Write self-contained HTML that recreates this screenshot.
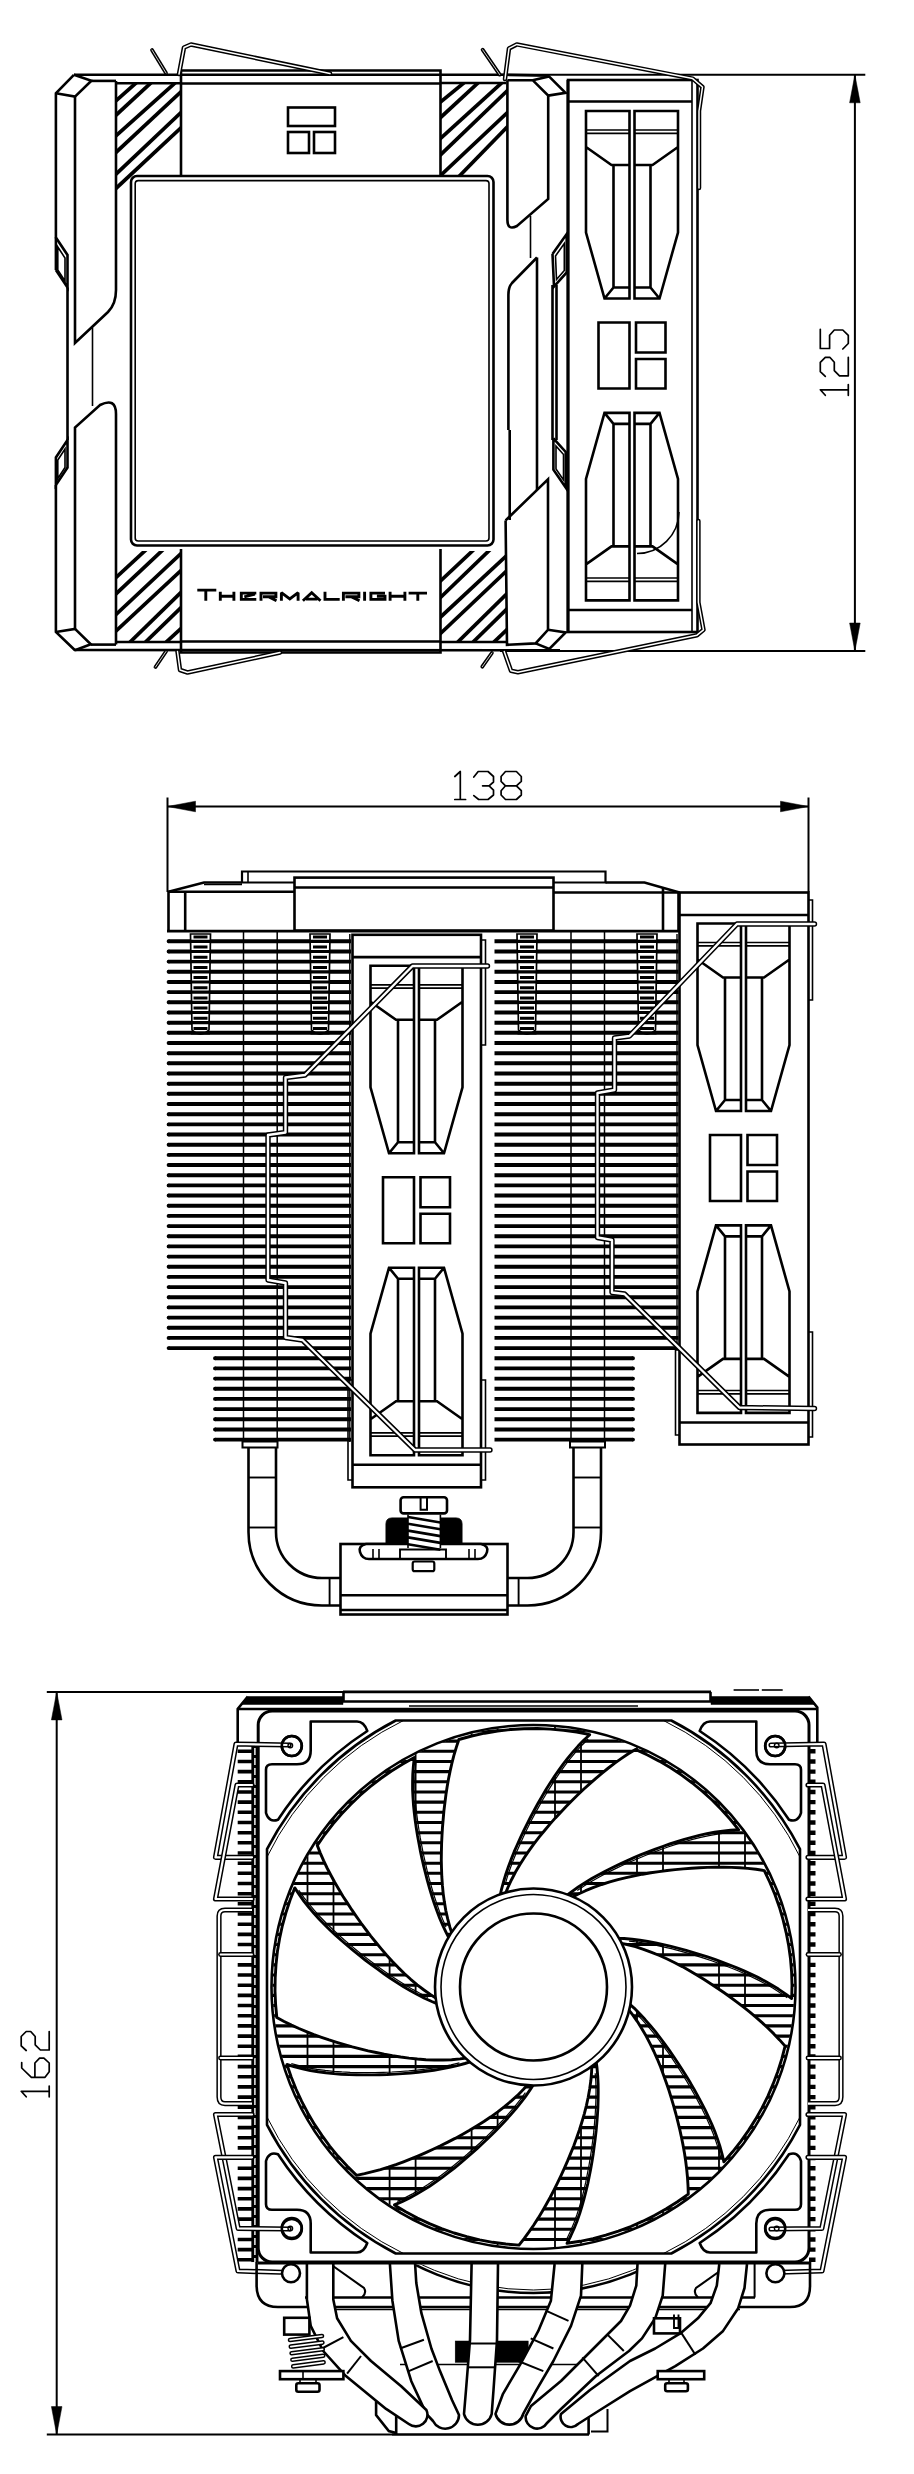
<!DOCTYPE html><html><head><meta charset="utf-8"><title>Cooler dimensions</title><style>html,body{margin:0;padding:0;background:#fff}svg{display:block}</style></head><body><svg width="914" height="2474" viewBox="0 0 914 2474" fill="none" stroke="#000" stroke-linecap="butt" stroke-linejoin="miter"><rect width="914" height="2474" fill="#fff" stroke="none"/><defs><g id="fcol"><path d="M18 31H61.5V218.5H36.5L18 152.5ZM18 67L43.5 85H61.5M45.5 85V207.5H61.5M45.5 207.5L36.5 218.5M110 31H66.5V218.5H91.5L110 152.5ZM110 67L84.5 85H66.5M82.5 85V207.5H66.5M82.5 207.5L91.5 218.5" stroke-width="2.6"/><path d="M18 50H61.5M18 53.4H61.5M110 50H66.5M110 53.4H66.5" stroke-width="1.7"/></g><g id="fanedge"><use href="#fcol"/><use href="#fcol" transform="translate(0 551.4) scale(1 -1)"/><path d="M30.5 242.5H61.5V308.5H30.5ZM68 242.5H97.5V272.5H68ZM68 279H97.5V308.5H68Z" stroke-width="2.6"/></g><clipPath id="hc1"><rect x="116" y="82.5" width="65" height="109.5"/></clipPath><clipPath id="hc2"><rect x="441" y="82.5" width="66.5" height="93"/></clipPath><clipPath id="hc3"><rect x="116" y="551" width="65" height="91.5"/></clipPath><clipPath id="hc4"><rect x="441" y="551" width="66" height="91.5"/></clipPath><clipPath id="cfan"><circle cx="533.5" cy="1987" r="261"/></clipPath><clipPath id="crear"><rect x="258" y="2264.5" width="551" height="33"/></clipPath></defs><g id="v1">
<path d="M500 74.8L865.3 74.8" stroke-width="2"/>
<path d="M500 651L865.3 651" stroke-width="2"/>
<path d="M854.9 74.8L854.9 651" stroke-width="2"/>
<path d="M854.9 74.8L860.2 102.8L849.6 102.8Z" stroke-width="0.5" fill="#000"/>
<path d="M854.9 651L849.6 623L860.2 623Z" stroke-width="0.5" fill="#000"/>
<g transform="translate(848.8 395.3) rotate(-90)" stroke-width="1.7" stroke-linecap="round" stroke-linejoin="round"><path transform="translate(0 -29)" d="M0 5.5L5.5 .5V28.5M0 28.5H10.8"/><path transform="translate(19 -29)" d="M0 5.5L4.6 .5H14L19 5.5V10L14 14.5H5.7L.5 19.7V28.5H19"/><path transform="translate(46.3 -29)" d="M19.7 .5H.5V9.8H13.7L19 14.5V23L13.7 28.5H5.5L0 23"/></g>
<g clip-path="url(#hc1)">
<path d="M111.9 104.5L140.5 79" stroke-width="3.7"/>
<path d="M112 118.8L154.7 79.4" stroke-width="3.7"/>
<path d="M111.9 139.5L178.9 79.5" stroke-width="3.7"/>
<path d="M112 156.1L185.4 87.6" stroke-width="3.7"/>
<path d="M112 177.9L185.4 108.4" stroke-width="3.7"/>
<path d="M112 192.1L185.4 123.7" stroke-width="3.7"/>
</g>
<g clip-path="url(#hc2)">
<path d="M437.8 104.3L468.4 79.2" stroke-width="3.7"/>
<path d="M438 119.9L481.8 79.4" stroke-width="3.7"/>
<path d="M438 140.6L505.4 79.5" stroke-width="3.7"/>
<path d="M438.1 157.2L511.8 86.4" stroke-width="3.7"/>
<path d="M438 177.9L511.9 108.4" stroke-width="3.7"/>
<path d="M457.4 178.1L511.7 122.4" stroke-width="3.7"/>
</g>
<g clip-path="url(#hc3)">
<path d="M112 581.1L148.2 547.8" stroke-width="3.7"/>
<path d="M112 597.6L165.7 547.2" stroke-width="3.7"/>
<path d="M112 618.3L185.4 549.4" stroke-width="3.7"/>
<path d="M112 634.8L185.4 566.4" stroke-width="3.7"/>
<path d="M126.3 645.8L185.3 588.2" stroke-width="3.7"/>
<path d="M141.7 645.8L185.3 603.5" stroke-width="3.7"/>
<path d="M162.3 645.7L185.4 624.4" stroke-width="3.7"/>
</g>
<g clip-path="url(#hc4)">
<path d="M438 583.3L475.8 547.8" stroke-width="3.7"/>
<path d="M438.1 599.8L492.1 547.7" stroke-width="3.7"/>
<path d="M438 619.4L511.4 551.1" stroke-width="3.7"/>
<path d="M438 635.9L511.4 566.4" stroke-width="3.7"/>
<path d="M454 645.8L511.3 589.3" stroke-width="3.7"/>
<path d="M469.3 645.8L511.3 604.6" stroke-width="3.7"/>
<path d="M490.1 645.7L511.3 625.5" stroke-width="3.7"/>
</g>
<path d="M74 74.8L506 74.8" stroke-width="2.6"/>
<path d="M74 650L560 650.3" stroke-width="2.6"/>
<path d="M91.4 80.9L116 80.9" stroke-width="2.6"/>
<path d="M116 83.2L181 83.2" stroke-width="2.6"/>
<path d="M440.5 83L506 83" stroke-width="2.6"/>
<path d="M116 642L181 642" stroke-width="2.6"/>
<path d="M440.5 642L507 642" stroke-width="2.6"/>
<path d="M90.8 644.6L116 644.6" stroke-width="2.6"/>
<path d="M181 176L181 70.5L440.5 70.5L440.5 176" stroke-width="2.6"/>
<path d="M181 83.5L440.5 83.5" stroke-width="2.6"/>
<path d="M181 549L181 652.5L440.5 652.5L440.5 549" stroke-width="2.6"/>
<path d="M181 641.5L440.5 641.5" stroke-width="2.6"/>
<rect x="288" y="107.5" width="47" height="18.5" stroke-width="2.6"/>
<rect x="288" y="132" width="21" height="21" stroke-width="2.6"/>
<rect x="314" y="132" width="21" height="21" stroke-width="2.6"/>
<rect x="131" y="176" width="362.5" height="369.5" stroke-width="2.6" fill="white" rx="6"/>
<rect x="135.2" y="180.6" width="353.8" height="360.4" stroke-width="1.6" rx="3"/>
<path d="M197.3 590.1H216.3M205.8 590.1V600.8M220.3 591.7V600.8M233.9 591.7V600.8M220.3 596.3H233.9M239.9 593.1H256.3M241.3 591.7V600.8M241.3 599.4H256.3M254.9 594.1L244.3 596.8M261 600.8V593.1H275.9V596.7H263M268.5 596.7L276.5 600.8M281.4 600.8V592.7L289.8 598.9L298.1 592.7V600.8M302.9 600.8L311.7 592.8L320.5 600.8M306 599.1H317.4M325 591.7V599.4H339.7M343.4 600.8V593.1H358.9V596.7H345.4M351.1 596.7L359.5 600.8M364.6 591.7V600.8M385 593.1H370.9V599.4H385V596.3H376.9M390.1 591.7V600.8M404.9 591.7V600.8M390.1 596.3H404.9M408.6 593.1H427M417.8 593.1V600.8" stroke-width="2.9" stroke-linejoin="miter" stroke-miterlimit="2"/>
<path d="M73.9 74.8L55.9 93.3L55.9 237.5L67.5 255L67.5 287.5L55.9 270" stroke-width="2.6"/>
<path d="M55.9 93.3L75 96.6L91.4 80.7L73.9 74.8" stroke-width="2.6"/>
<path d="M67.5 287.5L67.5 440" stroke-width="2.6"/>
<path d="M67.5 467.5L67.5 440L55.9 457.5L55.9 485L67.5 467.5L67.5 440" stroke-width="2.6"/>
<path d="M55.9 485L55.9 632L75 650.2" stroke-width="2.6"/>
<path d="M75 96.6V343L108 312Q116 304 116 290V80.9" stroke-width="2.6"/>
<path d="M92.5 327.5L92.5 406" stroke-width="1.6"/>
<path d="M75 628.9V427.5L100 405Q116 397 116 414V644.6" stroke-width="2.6"/>
<path d="M55.9 632L75 628.9L90.8 644.3L75 650.2" stroke-width="2.6"/>
<path d="M55.9 270L55.9 237.5" stroke-width="2.6"/>
<path d="M507.4 80.2V220Q507.5 231 517 226L548.2 199V95.6L532.7 80.2H507.4" stroke-width="2.6"/>
<path d="M532.7 80.2L549 76.4L565.5 92.8L548 95.6" stroke-width="2.6"/>
<path d="M506 74.8L549 75.6" stroke-width="2.6"/>
<path d="M530.5 216L530.5 258" stroke-width="1.6"/>
<path d="M537 257.5L512 283Q508.4 287 508.4 295V430" stroke-width="2.6"/>
<path d="M537 257.5L537 490" stroke-width="2.6"/>
<path d="M552.5 254L566.7 234L566.7 272.4L554 286.6L552.5 254" stroke-width="2.6"/>
<path d="M552.5 285L552.5 440" stroke-width="2.6"/>
<path d="M556.5 285L556.5 440" stroke-width="2.6"/>
<path d="M553.4 438.3L565.7 452L565.7 487.5L553.4 469.7L553.4 438.3" stroke-width="2.6"/>
<path d="M505.6 520.4L548 479.3L548 629.8L535.6 643.4L507 644.8L505.6 520.4" stroke-width="2.6" fill="white"/>
<path d="M548 629.8L565.7 632.5L549.3 649L535.6 643.4" stroke-width="2.6"/>
<path d="M509.7 430L509.7 520" stroke-width="2.6"/>
<path d="M57.8 247L65 258L65 281L57.8 270Z" stroke-width="1.6"/>
<path d="M65 449L57.8 460L57.8 478.5L65 467.5Z" stroke-width="1.6"/>
<path d="M555.5 256L564.3 243.5L564.3 270.5L556.5 279.5Z" stroke-width="1.6"/>
<path d="M556 446L563.5 454.5L563.5 480L556 469Z" stroke-width="1.6"/>
<rect x="568" y="80" width="129.5" height="552" stroke-width="2.6" fill="white"/>
<path d="M568 101.5L692 101.5" stroke-width="2.6"/>
<path d="M568 610L692 610" stroke-width="2.6"/>
<path d="M692 80L692 632" stroke-width="1.6"/>
<use href="#fanedge" x="568" y="80"/>
<path d="M568 80L568 632" stroke-width="3"/>
<path d="M679 512A42 42 0 0 1 637 553.5" stroke-width="1.6"/>
<path d="M179 74L184 47.5L191 44.5L330 73.5" stroke-width="4.5" stroke-linejoin="round" stroke-linecap="round"/>
<path d="M179 74L184 47.5L191 44.5L330 73.5" stroke="#fff" stroke-width="1.5" stroke-linejoin="round" stroke-linecap="round"/>
<path d="M152 50L166 73" stroke-width="3.8" stroke-linejoin="round" stroke-linecap="round"/>
<path d="M152 50L166 73" stroke="#fff" stroke-width="0.8" stroke-linejoin="round" stroke-linecap="round"/>
<path d="M505 79L509 48.4L516.8 44.4L692.7 78.6L702.5 87L699 111L699 188" stroke-width="4.5" stroke-linejoin="round" stroke-linecap="round"/>
<path d="M505 79L509 48.4L516.8 44.4L692.7 78.6L702.5 87L699 111L699 188" stroke="#fff" stroke-width="1.5" stroke-linejoin="round" stroke-linecap="round"/>
<path d="M482.6 49.7L499.7 74.6" stroke-width="3.8" stroke-linejoin="round" stroke-linecap="round"/>
<path d="M482.6 49.7L499.7 74.6" stroke="#fff" stroke-width="0.8" stroke-linejoin="round" stroke-linecap="round"/>
<path d="M177.5 651.5L180 670L187.5 672.5L280 652.5" stroke-width="4.5" stroke-linejoin="round" stroke-linecap="round"/>
<path d="M177.5 651.5L180 670L187.5 672.5L280 652.5" stroke="#fff" stroke-width="1.5" stroke-linejoin="round" stroke-linecap="round"/>
<path d="M166 651.5L155.5 667" stroke-width="3.8" stroke-linejoin="round" stroke-linecap="round"/>
<path d="M166 651.5L155.5 667" stroke="#fff" stroke-width="0.8" stroke-linejoin="round" stroke-linecap="round"/>
<path d="M504.2 651.6L511 670.8L517.9 672.2L697 635.2L703.5 629.8L698.4 602.4L698.4 521" stroke-width="4.5" stroke-linejoin="round" stroke-linecap="round"/>
<path d="M504.2 651.6L511 670.8L517.9 672.2L697 635.2L703.5 629.8L698.4 602.4L698.4 521" stroke="#fff" stroke-width="1.5" stroke-linejoin="round" stroke-linecap="round"/>
<path d="M491.9 653L482.3 666.7" stroke-width="3.8" stroke-linejoin="round" stroke-linecap="round"/>
<path d="M491.9 653L482.3 666.7" stroke="#fff" stroke-width="0.8" stroke-linejoin="round" stroke-linecap="round"/>
</g>
<g id="v2">
<path d="M167.5 806.5L808.5 806.5" stroke-width="2"/>
<path d="M167.5 797.5L167.5 892" stroke-width="2"/>
<path d="M808.5 797.5L808.5 892" stroke-width="2"/>
<path d="M167.5 806.5L195.5 801.2L195.5 811.8Z" stroke-width="0.5" fill="#000"/>
<path d="M808.5 806.5L780.5 811.8L780.5 801.2Z" stroke-width="0.5" fill="#000"/>
<g transform="translate(454.8 800) rotate(0)" stroke-width="1.7" stroke-linecap="round" stroke-linejoin="round"><path transform="translate(0 -29)" d="M0 5.5L5.5 .5V28.5M0 28.5H10.8"/><path transform="translate(19 -29)" d="M0 6L4.4 .5H14.2L19.7 5.5V11L15.3 14.8H8.8M15.3 14.8L19.7 19.1V24L14.2 28.5H4.9L0 24.6"/><path transform="translate(46.3 -29)" d="M4.4 .5H15.3L20.2 5.5V10.4L15.3 14.8H4.4L0 10.4V5.5ZM4.4 14.8L0 19.7V24L4.4 28.5H15.3L20.2 24V19.7L15.3 14.8"/></g>
<path d="M168.5 941.3H351M494.5 941.3H678.5M168.5 951.5H351M494.5 951.5H678.5M168.5 961.6H351M494.5 961.6H678.5M168.5 971.8H351M494.5 971.8H678.5M168.5 982H351M494.5 982H678.5M168.5 992.1H351M494.5 992.1H678.5M168.5 1002.3H351M494.5 1002.3H678.5M168.5 1012.5H351M494.5 1012.5H678.5M168.5 1022.7H351M494.5 1022.7H678.5M168.5 1032.8H351M494.5 1032.8H678.5M168.5 1043H351M494.5 1043H678.5M168.5 1053.2H351M494.5 1053.2H678.5M168.5 1063.3H351M494.5 1063.3H678.5M168.5 1073.5H351M494.5 1073.5H678.5M168.5 1083.7H351M494.5 1083.7H678.5M168.5 1093.8H351M494.5 1093.8H678.5M168.5 1104H351M494.5 1104H678.5M168.5 1114.2H351M494.5 1114.2H678.5M168.5 1124.4H351M494.5 1124.4H678.5M168.5 1134.5H351M494.5 1134.5H678.5M168.5 1144.7H351M494.5 1144.7H678.5M168.5 1154.9H351M494.5 1154.9H678.5M168.5 1165H351M494.5 1165H678.5M168.5 1175.2H351M494.5 1175.2H678.5M168.5 1185.4H351M494.5 1185.4H678.5M168.5 1195.5H351M494.5 1195.5H678.5M168.5 1205.7H351M494.5 1205.7H678.5M168.5 1215.9H351M494.5 1215.9H678.5M168.5 1226.1H351M494.5 1226.1H678.5M168.5 1236.2H351M494.5 1236.2H678.5M168.5 1246.4H351M494.5 1246.4H678.5M168.5 1256.6H351M494.5 1256.6H678.5M168.5 1266.7H351M494.5 1266.7H678.5M168.5 1276.9H351M494.5 1276.9H678.5M168.5 1287.1H351M494.5 1287.1H678.5M168.5 1297.2H351M494.5 1297.2H678.5M168.5 1307.4H351M494.5 1307.4H678.5M168.5 1317.6H351M494.5 1317.6H678.5M168.5 1327.8H351M494.5 1327.8H678.5M168.5 1337.9H351M494.5 1337.9H678.5M168.5 1348.1H351M494.5 1348.1H678.5M215 1358.3H351M494.5 1358.3H633M215 1368.4H351M494.5 1368.4H633M215 1378.6H351M494.5 1378.6H633M215 1388.8H351M494.5 1388.8H633M215 1398.9H351M494.5 1398.9H633M215 1409.1H351M494.5 1409.1H633M215 1419.3H351M494.5 1419.3H633M215 1429.5H351M494.5 1429.5H633M215 1439.6H351M494.5 1439.6H633" stroke-width="3.9"/>
<path d="M168.6 941.3h.01M168.6 951.5h.01M168.6 961.6h.01M168.6 971.8h.01M168.6 982h.01M168.6 992.1h.01M168.6 1002.3h.01M168.6 1012.5h.01M168.6 1022.7h.01M168.6 1032.8h.01M168.6 1043h.01M168.6 1053.2h.01M168.6 1063.3h.01M168.6 1073.5h.01M168.6 1083.7h.01M168.6 1093.8h.01M168.6 1104h.01M168.6 1114.2h.01M168.6 1124.4h.01M168.6 1134.5h.01M168.6 1144.7h.01M168.6 1154.9h.01M168.6 1165h.01M168.6 1175.2h.01M168.6 1185.4h.01M168.6 1195.5h.01M168.6 1205.7h.01M168.6 1215.9h.01M168.6 1226.1h.01M168.6 1236.2h.01M168.6 1246.4h.01M168.6 1256.6h.01M168.6 1266.7h.01M168.6 1276.9h.01M168.6 1287.1h.01M168.6 1297.2h.01M168.6 1307.4h.01M168.6 1317.6h.01M168.6 1327.8h.01M168.6 1337.9h.01M168.6 1348.1h.01M215 1358.3h.01M633 1358.3h.01M215 1368.4h.01M633 1368.4h.01M215 1378.6h.01M633 1378.6h.01M215 1388.8h.01M633 1388.8h.01M215 1398.9h.01M633 1398.9h.01M215 1409.1h.01M633 1409.1h.01M215 1419.3h.01M633 1419.3h.01M215 1429.5h.01M633 1429.5h.01M215 1439.6h.01M633 1439.6h.01" stroke-width="3.9" stroke-linecap="round"/>
<path d="M190.5 934L192 1030Q200.5 1038 209 1030L210.5 934Z" stroke-width="1.7" fill="white"/>
<path d="M191 941.3H210M191 951.5H210M191 961.6H210M191 971.8H210M191 982H210M191 992.1H210M191 1002.3H210M191 1012.5H210M191 1022.7H210M191 1032.8H210" stroke-width="3.2"/>
<path d="M193.5 936.9H207.5M193.5 947.1H207.5M193.5 957.2H207.5M193.5 967.4H207.5M193.5 977.6H207.5M193.5 987.8H207.5M193.5 997.9H207.5M193.5 1008.1H207.5M193.5 1018.3H207.5M193.5 1028.4H207.5" stroke-width="3"/>
<path d="M310 934L311.5 1030Q320 1038 328.5 1030L330 934Z" stroke-width="1.7" fill="white"/>
<path d="M310.5 941.3H329.5M310.5 951.5H329.5M310.5 961.6H329.5M310.5 971.8H329.5M310.5 982H329.5M310.5 992.1H329.5M310.5 1002.3H329.5M310.5 1012.5H329.5M310.5 1022.7H329.5M310.5 1032.8H329.5" stroke-width="3.2"/>
<path d="M313 936.9H327M313 947.1H327M313 957.2H327M313 967.4H327M313 977.6H327M313 987.8H327M313 997.9H327M313 1008.1H327M313 1018.3H327M313 1028.4H327" stroke-width="3"/>
<path d="M517 934L518.5 1030Q527 1038 535.5 1030L537 934Z" stroke-width="1.7" fill="white"/>
<path d="M517.5 941.3H536.5M517.5 951.5H536.5M517.5 961.6H536.5M517.5 971.8H536.5M517.5 982H536.5M517.5 992.1H536.5M517.5 1002.3H536.5M517.5 1012.5H536.5M517.5 1022.7H536.5M517.5 1032.8H536.5" stroke-width="3.2"/>
<path d="M520 936.9H534M520 947.1H534M520 957.2H534M520 967.4H534M520 977.6H534M520 987.8H534M520 997.9H534M520 1008.1H534M520 1018.3H534M520 1028.4H534" stroke-width="3"/>
<path d="M637 934L638.5 1030Q647 1038 655.5 1030L657 934Z" stroke-width="1.7" fill="white"/>
<path d="M637.5 941.3H656.5M637.5 951.5H656.5M637.5 961.6H656.5M637.5 971.8H656.5M637.5 982H656.5M637.5 992.1H656.5M637.5 1002.3H656.5M637.5 1012.5H656.5M637.5 1022.7H656.5M637.5 1032.8H656.5" stroke-width="3.2"/>
<path d="M640 936.9H654M640 947.1H654M640 957.2H654M640 967.4H654M640 977.6H654M640 987.8H654M640 997.9H654M640 1008.1H654M640 1018.3H654M640 1028.4H654" stroke-width="3"/>
<path d="M243.5 932L243.5 1445" stroke-width="1.5"/>
<path d="M277.2 932L277.2 1445" stroke-width="1.5"/>
<path d="M571 932L571 1445" stroke-width="1.5"/>
<path d="M604.5 932L604.5 1445" stroke-width="1.5"/>
<path d="M349.8 934L349.8 1442" stroke-width="1.4"/>
<path d="M677 934L677 1350" stroke-width="1.4"/>
<path d="M167 931.1L680 931.1" stroke-width="2.9"/>
<path d="M294 882.5L242 882.5L242 871.5L605.5 871.5L605.5 882.5L554 882.5" stroke-width="2.2"/>
<path d="M248 871.5L248 882.5" stroke-width="1.6"/>
<path d="M242 882.5L204 882.5L168.5 891.8L168.5 931.5" stroke-width="2.6"/>
<path d="M168.5 891.8L294.5 891.8" stroke-width="2.6"/>
<path d="M185.2 891.8L185.2 931.5" stroke-width="2.6"/>
<path d="M204 884.5L242 884.5" stroke-width="1.6"/>
<rect x="294.5" y="877.6" width="259" height="52.9" stroke-width="2.6" fill="white"/>
<path d="M294.5 887.5L553.5 887.5" stroke-width="2.6"/>
<path d="M605.5 882.5L644.5 882.5L679.5 892.5" stroke-width="2.6"/>
<path d="M553.5 892.5L679.5 892.5" stroke-width="2.6"/>
<path d="M663 888L663 931.5" stroke-width="2.6"/>
<path d="M678.5 892.5L678.5 931.5" stroke-width="2.6"/>
<rect x="352.5" y="934.8" width="128.5" height="552.5" stroke-width="2.6" fill="white"/>
<path d="M352.5 957.1L481 957.1" stroke-width="2.6"/>
<path d="M352.5 1464.8L481 1464.8" stroke-width="2.6"/>
<use href="#fanedge" x="352.5" y="934.8"/>
<path d="M481 940L485.5 940L485.5 1045L481 1045" stroke-width="1.6"/>
<path d="M352.5 1380L348 1380L348 1480L352.5 1480" stroke-width="1.6"/>
<path d="M481 1380L485.5 1380L485.5 1480L481 1480" stroke-width="1.6"/>
<rect x="679.5" y="892.5" width="129" height="552" stroke-width="2.6" fill="white"/>
<path d="M679.5 915L808.5 915" stroke-width="2.6"/>
<path d="M679.5 1422.5L808.5 1422.5" stroke-width="2.6"/>
<use href="#fanedge" x="679.5" y="892.5"/>
<path d="M808.5 900L812.5 900L812.5 1000L808.5 1000" stroke-width="1.6"/>
<path d="M808.5 1332L812.5 1332L812.5 1437L808.5 1437" stroke-width="1.6"/>
<path d="M679.5 1350L675.5 1350L675.5 1435L679.5 1435" stroke-width="1.6"/>
<path d="M487.5 966L412.5 966L305 1075L285.5 1077.5L285.5 1132.5L268 1135L268 1280L285.5 1283L285.5 1337.5L302.5 1340L415 1450L490 1450" stroke-width="5.4" stroke-linejoin="round" stroke-linecap="round"/>
<path d="M487.5 966L412.5 966L305 1075L285.5 1077.5L285.5 1132.5L268 1135L268 1280L285.5 1283L285.5 1337.5L302.5 1340L415 1450L490 1450" stroke="#fff" stroke-width="2.4" stroke-linejoin="round" stroke-linecap="round"/>
<path d="M814.5 924L737 924L629.5 1036L614.5 1038L614.5 1090L597.5 1093L597.5 1237.5L612 1240L612 1292.5L624.5 1294L739.5 1407.5L814.5 1408.5" stroke-width="5.4" stroke-linejoin="round" stroke-linecap="round"/>
<path d="M814.5 924L737 924L629.5 1036L614.5 1038L614.5 1090L597.5 1093L597.5 1237.5L612 1240L612 1292.5L624.5 1294L739.5 1407.5L814.5 1408.5" stroke="#fff" stroke-width="2.4" stroke-linejoin="round" stroke-linecap="round"/>
<rect x="242.5" y="1441.5" width="35" height="6" stroke-width="2" fill="white"/>
<rect x="570" y="1441.5" width="35" height="6" stroke-width="2" fill="white"/>
<path d="M248.5 1447.5V1532A73.5 73.5 0 0 0 322 1605.5H340.5M276 1447.5V1532A46 46 0 0 0 322 1578H340.5" stroke-width="2.6"/>
<path d="M601 1447.5V1532A73.5 73.5 0 0 1 527.5 1605.5H507.5M573.5 1447.5V1532A46 46 0 0 1 527.5 1578H507.5" stroke-width="2.6"/>
<path d="M248.5 1477.5L276 1477.5" stroke-width="1.9"/>
<path d="M248.5 1527.5L276 1527.5" stroke-width="1.9"/>
<path d="M573.5 1477.5L601 1477.5" stroke-width="1.9"/>
<path d="M573.5 1527.5L601 1527.5" stroke-width="1.9"/>
<path d="M329.6 1578L329.6 1605.5" stroke-width="1.9"/>
<path d="M518.6 1578L518.6 1605.5" stroke-width="1.9"/>
<rect x="340.5" y="1544" width="167" height="70.5" stroke-width="2.6" fill="white"/>
<path d="M340.5 1595.3L507.5 1595.3" stroke-width="2.6"/>
<path d="M340.5 1610L507.5 1610" stroke-width="2.6"/>
<path d="M366 1544H481Q489 1546 487 1552Q485 1559 478 1559H369Q362 1559 360 1552Q358 1546 366 1544Z" stroke-width="2.6" fill="white"/>
<path d="M373 1549L373 1559" stroke-width="1.6"/>
<path d="M379 1549L379 1559" stroke-width="1.6"/>
<path d="M469 1549L469 1559" stroke-width="1.6"/>
<path d="M475 1549L475 1559" stroke-width="1.6"/>
<path d="M400 1559L400 1549.5L446 1549.5L446 1559" stroke-width="1.9"/>
<rect x="412.7" y="1561.5" width="21.6" height="9.7" stroke-width="2.2" rx="2"/>
<path d="M386 1544V1524Q386 1518 392 1518H456Q462 1518 462 1524V1544Z" stroke-width="1" fill="#000"/>
<rect x="408" y="1514.6" width="32.4" height="33.4" stroke-width="0.1" fill="white" stroke="none"/>
<path d="M408 1517L440.4 1522.5M408 1523.8L440.4 1529.3M408 1530.6L440.4 1536.1M408 1537.4L440.4 1542.9M408 1544.2L440.4 1549.7" stroke-width="2.6"/>
<path d="M408 1514.6L408 1548" stroke-width="1.6"/>
<path d="M440.4 1514.6L440.4 1548" stroke-width="1.6"/>
<rect x="400.6" y="1497.3" width="46.4" height="16.1" stroke-width="2.6" fill="white" rx="3"/>
<path d="M420.6 1497.3L420.6 1509.8L427 1509.8L427 1497.3" stroke-width="2"/>
</g>
<g id="v3">
<path d="M46.8 1691.9L343 1691.9" stroke-width="2"/>
<path d="M46.8 2434.6L392 2434.6" stroke-width="2"/>
<path d="M56.7 1691.9L56.7 2434.6" stroke-width="2"/>
<path d="M56.7 1691.9L62 1719.9L51.4 1719.9Z" stroke-width="0.5" fill="#000"/>
<path d="M56.7 2434.6L51.4 2406.6L62 2406.6Z" stroke-width="0.5" fill="#000"/>
<g transform="translate(49.7 2096.8) rotate(-90)" stroke-width="1.7" stroke-linecap="round" stroke-linejoin="round"><path transform="translate(0 -29)" d="M0 5.5L5.5 .5V28.5M0 28.5H10.8"/><path transform="translate(19 -29)" d="M15.3 1H9.8L.5 10.7V24.3L6 28.5H14.8L19.7 23.2V18.9L14.8 14.2H.5"/><path transform="translate(46.3 -29)" d="M0 5.5L4.6 .5H14L19 5.5V10L14 14.5H5.7L.5 19.7V28.5H19"/></g>
<path d="M343 1691.9L711 1691.9" stroke-width="2.6"/>
<path d="M343.5 1691.9L343.5 1701" stroke-width="2.6"/>
<path d="M710.5 1691.9L710.5 1701" stroke-width="2.6"/>
<path d="M247.8 1696.5L343 1696.5L343 1704.5L240.5 1704.5Z" stroke-width="0.5" fill="#000"/>
<path d="M711 1696.5L808.5 1696.5L815.5 1704.5L711 1704.5Z" stroke-width="0.5" fill="#000"/>
<path d="M343 1701.5L711 1701.5" stroke-width="2.6"/>
<path d="M409 1706L638 1706" stroke-width="1.6"/>
<path d="M237.7 1709L817.3 1709" stroke-width="2.6"/>
<path d="M247.8 1696.5L237.7 1709L237.7 1746" stroke-width="2.6"/>
<path d="M808.5 1696.5L817.3 1707.5L817.3 1743" stroke-width="2.6"/>
<path d="M733.6 1690L759 1690" stroke-width="1.6"/>
<path d="M761.8 1690L782.7 1690" stroke-width="1.6"/>
<path d="M237.7 1751.3H252M237.7 1761.5H252M237.7 1771.6H252M237.7 1781.8H252M237.7 1792H252M237.7 1802.1H252M237.7 1812.3H252M237.7 1822.5H252M237.7 1832.7H252M237.7 1842.8H252M237.7 1853H252M237.7 1863.2H252M237.7 1873.3H252M237.7 1883.5H252M237.7 1893.7H252M237.7 1903.8H252M237.7 1914H252M237.7 1924.2H252M237.7 1934.4H252M237.7 1944.5H252M237.7 1954.7H252M237.7 1964.9H252M237.7 1975H252M237.7 1985.2H252M237.7 1995.4H252M237.7 2005.5H252M237.7 2015.7H252M237.7 2025.9H252M237.7 2036.1H252M237.7 2046.2H252M237.7 2056.4H252M237.7 2066.6H252M237.7 2076.7H252M237.7 2086.9H252M237.7 2097.1H252M237.7 2107.2H252M237.7 2117.4H252M237.7 2127.6H252M237.7 2137.8H252M237.7 2147.9H252M237.7 2158.1H252M237.7 2168.3H252M237.7 2178.4H252M237.7 2188.6H252M237.7 2198.8H252M237.7 2208.9H252M237.7 2219.1H252M237.7 2229.3H252M237.7 2239.5H252M237.7 2249.6H252M237.7 2259.8H252" stroke-width="3.6"/>
<path d="M809 1751.3H815.5M809 1761.5H815.5M809 1771.6H815.5M809 1781.8H815.5M809 1792H815.5M809 1802.1H815.5M809 1812.3H815.5M809 1822.5H815.5M809 1832.7H815.5M809 1842.8H815.5M809 1853H815.5M809 1863.2H815.5M809 1873.3H815.5M809 1883.5H815.5M809 1893.7H815.5M809 1903.8H815.5M809 1914H815.5M809 1924.2H815.5M809 1934.4H815.5M809 1944.5H815.5M809 1954.7H815.5M809 1964.9H815.5M809 1975H815.5M809 1985.2H815.5M809 1995.4H815.5M809 2005.5H815.5M809 2015.7H815.5M809 2025.9H815.5M809 2036.1H815.5M809 2046.2H815.5M809 2056.4H815.5M809 2066.6H815.5M809 2076.7H815.5M809 2086.9H815.5M809 2097.1H815.5M809 2107.2H815.5M809 2117.4H815.5M809 2127.6H815.5M809 2137.8H815.5M809 2147.9H815.5M809 2158.1H815.5M809 2168.3H815.5M809 2178.4H815.5M809 2188.6H815.5M809 2198.8H815.5M809 2208.9H815.5M809 2219.1H815.5M809 2229.3H815.5M809 2239.5H815.5M809 2249.6H815.5M809 2259.8H815.5" stroke-width="4.4"/>
<rect x="251.4" y="1746" width="7" height="516" stroke-width="0.1" fill="#000"/>
<path d="M254.9 1748L254.9 2262" stroke-width="1.4" stroke="#fff" stroke-dasharray="7 3"/>
<rect x="258.2" y="1711" width="550.8" height="551" stroke-width="3" fill="white" rx="14"/>
<path d="M395.7 1720.5H671.3A300 300 0 0 1 800 1849.2V2124.8A300 300 0 0 1 671.3 2253.5H395.7A300 300 0 0 1 267 2124.8V1849.2A300 300 0 0 1 395.7 1720.5Z" stroke-width="2.6"/>
<path d="M663.5 1720.5A296.5 296.5 0 0 1 800 1857" stroke-width="1"/>
<path d="M663.5 2253.5A296.5 296.5 0 0 0 800 2117" stroke-width="1"/>
<path d="M403.5 2253.5A296.5 296.5 0 0 1 267 2117" stroke-width="1"/>
<path d="M403.5 1720.5A296.5 296.5 0 0 0 267 1857" stroke-width="1"/>
<g clip-path="url(#cfan)"><path d="M268 1720.8H800M268 1731H800M268 1741.1H800M268 1751.3H800M268 1761.5H800M268 1771.6H800M268 1781.8H800M268 1792H800M268 1802.1H800M268 1812.3H800M268 1822.5H800M268 1832.7H800M268 1842.8H800M268 1853H800M268 1863.2H800M268 1873.3H800M268 1883.5H800M268 1893.7H800M268 1903.8H800M268 1914H800M268 1924.2H800M268 1934.4H800M268 1944.5H800M268 1954.7H800M268 1964.9H800M268 1975H800M268 1985.2H800M268 1995.4H800M268 2005.5H800M268 2015.7H800M268 2025.9H800M268 2036.1H800M268 2046.2H800M268 2056.4H800M268 2066.6H800M268 2076.7H800M268 2086.9H800M268 2097.1H800M268 2107.2H800M268 2117.4H800M268 2127.6H800M268 2137.8H800M268 2147.9H800M268 2158.1H800M268 2168.3H800M268 2178.4H800M268 2188.6H800M268 2198.8H800M268 2208.9H800M268 2219.1H800M268 2229.3H800M268 2239.5H800M268 2249.6H800M268 2259.8H800M268 2270H800" stroke-width="3.1"/><path d="M307.5 1720V2255M333.5 1720V2255M389.6 1720V2255M415.6 1720V2255M471.6 1720V2255M497.6 1720V2255M555 1720V2255M581 1720V2255M637 1720V2255M663 1720V2255M719 1720V2255M745 1720V2255" stroke-width="1.8"/></g>
<path d="M452.6 1935.3L449.9 1927.2L447.7 1918.9L445.8 1910.5L444.4 1902.1L443.2 1893.6L442.4 1885.2L441.8 1876.7L441.5 1868.3L441.3 1860L441.4 1851.7L441.6 1843.4L442 1835.2L442.5 1827L443.2 1819L443.9 1810.9L444.9 1802.9L445.9 1794.9L447.1 1787L448.5 1779L450.1 1771.1L451.9 1763.2L453.9 1755.3L456.3 1747.4L458.9 1739.5L471.7 1736L484.6 1733.2L497.6 1731L510.8 1729.5L524 1728.7L537.2 1728.5L550.4 1729.1L563.6 1730.3L576.7 1732.1L589.7 1734.7L583.7 1740.3L578.1 1746.1L572.8 1752.1L567.8 1758.1L563 1764.3L558.5 1770.6L554.2 1776.9L550 1783.3L545.9 1789.8L542 1796.4L538.2 1803L534.5 1809.8L530.9 1816.5L527.4 1823.4L523.9 1830.4L520.6 1837.4L517.4 1844.5L514.2 1851.7L511.3 1859.1L508.5 1866.5L505.9 1874L503.6 1881.6L501.5 1889.3L499.8 1897.1Z" stroke-width="2.9" fill="white" stroke-linejoin="round"/>
<path d="M438.3 1999.4L431 1994.9L424 1990L417.2 1984.8L410.7 1979.3L404.3 1973.5L398.3 1967.6L392.4 1961.5L386.7 1955.2L381.3 1948.9L376 1942.5L370.8 1936.1L365.8 1929.5L361 1923L356.3 1916.3L351.7 1909.7L347.3 1902.9L342.9 1896.2L338.8 1889.3L334.7 1882.3L330.9 1875.2L327.1 1868L323.6 1860.7L320.3 1853.1L317.3 1845.4L324.8 1834.5L332.9 1824L341.5 1814L350.6 1804.4L360.2 1795.2L370.2 1786.6L380.7 1778.5L391.5 1771L402.8 1764L414.3 1757.6L413.4 1765.8L412.8 1773.8L412.6 1781.8L412.6 1789.7L413 1797.4L413.5 1805.1L414.3 1812.8L415.2 1820.4L416.3 1828L417.5 1835.5L418.9 1843L420.3 1850.6L421.9 1858.1L423.6 1865.6L425.5 1873.2L427.4 1880.7L429.5 1888.2L431.8 1895.8L434.2 1903.3L436.9 1910.7L439.7 1918.2L442.8 1925.5L446.2 1932.7L449.9 1939.8Z" stroke-width="2.9" fill="white" stroke-linejoin="round"/>
<path d="M468.6 2057.7L460.1 2058.9L451.6 2059.7L443 2060L434.4 2060L425.9 2059.7L417.4 2059L409 2058.1L400.7 2057L392.4 2055.7L384.2 2054.2L376.1 2052.5L368.1 2050.8L360.2 2048.8L352.3 2046.8L344.5 2044.6L336.8 2042.3L329.1 2039.9L321.5 2037.3L313.9 2034.6L306.4 2031.6L299 2028.5L291.5 2025.1L284.1 2021.5L276.8 2017.5L275.6 2004.3L275 1991.1L275.2 1977.9L276 1964.7L277.4 1951.5L279.6 1938.5L282.4 1925.5L285.9 1912.8L290 1900.2L294.8 1887.9L299.3 1894.7L304 1901.3L309 1907.5L314.1 1913.5L319.3 1919.3L324.7 1924.8L330.2 1930.2L335.8 1935.4L341.5 1940.5L347.3 1945.5L353.2 1950.4L359.1 1955.2L365.2 1960L371.3 1964.6L377.6 1969.2L383.9 1973.7L390.4 1978.2L397 1982.5L403.6 1986.7L410.5 1990.7L417.4 1994.5L424.5 1998.2L431.8 2001.5L439.1 2004.6Z" stroke-width="2.9" fill="white" stroke-linejoin="round"/>
<path d="M529.2 2082.9L523.5 2089.3L517.5 2095.4L511.1 2101.1L504.5 2106.6L497.8 2111.8L490.9 2116.8L483.9 2121.5L476.7 2126L469.6 2130.3L462.3 2134.4L455.1 2138.4L447.8 2142.1L440.5 2145.8L433.1 2149.3L425.8 2152.6L418.4 2155.8L410.9 2158.9L403.5 2161.8L395.9 2164.6L388.3 2167.2L380.5 2169.6L372.6 2171.7L364.6 2173.7L356.5 2175.4L347.1 2166.1L338.1 2156.3L329.7 2146.1L321.9 2135.4L314.5 2124.4L307.8 2113L301.7 2101.3L296.1 2089.3L291.2 2077L286.9 2064.5L294.8 2066.9L302.6 2068.8L310.4 2070.5L318.2 2071.8L325.9 2072.8L333.6 2073.6L341.2 2074.2L348.9 2074.6L356.5 2074.8L364.2 2074.9L371.8 2074.9L379.5 2074.7L387.2 2074.5L394.9 2074.1L402.6 2073.6L410.4 2073L418.2 2072.2L426 2071.3L433.8 2070.2L441.6 2068.9L449.4 2067.4L457.2 2065.6L464.9 2063.5L472.5 2061.2Z" stroke-width="2.9" fill="white" stroke-linejoin="round"/>
<path d="M591.9 2063.2L591.6 2071.8L590.9 2080.3L589.7 2088.8L588.2 2097.3L586.4 2105.6L584.3 2113.8L581.9 2122L579.4 2130L576.6 2137.9L573.8 2145.7L570.7 2153.4L567.6 2160.9L564.3 2168.4L560.9 2175.8L557.4 2183.1L553.8 2190.3L550.1 2197.5L546.2 2204.5L542.2 2211.5L538 2218.4L533.6 2225.2L529 2231.9L524.1 2238.6L519 2245.1L505.8 2244L492.7 2242.3L479.7 2239.8L466.8 2236.7L454.1 2233L441.6 2228.6L429.4 2223.6L417.4 2218L405.7 2211.7L394.4 2204.9L402 2201.6L409.2 2198.1L416.3 2194.3L423 2190.3L429.6 2186.2L436 2181.8L442.2 2177.4L448.4 2172.7L454.4 2168L460.3 2163.2L466.1 2158.2L471.9 2153.2L477.6 2148.1L483.3 2142.8L488.9 2137.5L494.5 2132L499.9 2126.4L505.3 2120.7L510.6 2114.8L515.8 2108.8L520.8 2102.6L525.6 2096.3L530.2 2089.7L534.5 2083Z" stroke-width="2.9" fill="white" stroke-linejoin="round"/>
<path d="M627.2 2007.9L632.5 2014.6L637.4 2021.6L642 2028.9L646.3 2036.3L650.2 2043.9L653.9 2051.5L657.4 2059.3L660.6 2067L663.5 2074.9L666.3 2082.7L669 2090.5L671.4 2098.4L673.7 2106.2L675.9 2114L677.9 2121.8L679.8 2129.7L681.5 2137.5L683.1 2145.4L684.5 2153.3L685.7 2161.3L686.7 2169.4L687.5 2177.5L688 2185.7L688.3 2194.1L677.5 2201.7L666.3 2208.8L654.8 2215.3L642.9 2221.2L630.8 2226.5L618.4 2231.2L605.8 2235.2L593 2238.6L580.1 2241.3L567 2243.3L570.7 2236L574 2228.6L577 2221.2L579.6 2213.8L581.9 2206.4L584 2198.9L585.9 2191.5L587.7 2184L589.2 2176.5L590.7 2169L592 2161.5L593.2 2153.9L594.2 2146.3L595.2 2138.6L596.1 2130.9L596.8 2123.2L597.4 2115.4L597.9 2107.5L598.1 2099.6L598.2 2091.7L598.1 2083.8L597.7 2075.8L597 2067.8L595.9 2059.9Z" stroke-width="2.9" fill="white" stroke-linejoin="round"/>
<path d="M618.7 1942.8L627.1 1944.5L635.4 1946.7L643.5 1949.3L651.6 1952.3L659.5 1955.5L667.2 1959L674.8 1962.7L682.3 1966.6L689.6 1970.7L696.8 1974.9L703.8 1979.2L710.7 1983.7L717.5 1988.2L724.2 1992.8L730.8 1997.5L737.3 2002.3L743.6 2007.2L749.9 2012.2L756.1 2017.4L762.1 2022.7L768.1 2028.2L773.9 2033.9L779.6 2039.9L785.1 2046.1L781.8 2058.9L777.8 2071.5L773.1 2083.9L767.9 2096.1L762 2107.9L755.5 2119.4L748.4 2130.6L740.8 2141.4L732.6 2151.8L723.9 2161.8L722 2153.8L719.8 2146L717.3 2138.5L714.6 2131.1L711.6 2123.9L708.4 2116.9L705.1 2109.9L701.6 2103.1L698 2096.4L694.3 2089.7L690.5 2083.1L686.5 2076.5L682.4 2070L678.2 2063.5L673.9 2057L669.5 2050.6L665 2044.3L660.3 2038L655.4 2031.7L650.4 2025.6L645.1 2019.6L639.7 2013.8L634.1 2008.1L628.2 2002.7Z" stroke-width="2.9" fill="white" stroke-linejoin="round"/>
<path d="M570.3 1898.3L577.9 1894.3L585.6 1890.7L593.6 1887.4L601.6 1884.5L609.8 1881.9L617.9 1879.6L626.2 1877.6L634.4 1875.8L642.6 1874.2L650.8 1872.8L659 1871.6L667.1 1870.5L675.2 1869.6L683.3 1868.9L691.4 1868.2L699.4 1867.7L707.5 1867.4L715.5 1867.2L723.5 1867.2L731.6 1867.4L739.7 1867.8L747.8 1868.4L756 1869.3L764.3 1870.6L769.9 1882.5L775 1894.7L779.4 1907.2L783.1 1919.9L786.2 1932.8L788.7 1945.8L790.5 1958.9L791.6 1972.1L792 1985.3L791.7 1998.5L785.1 1993.6L778.4 1989.1L771.7 1984.9L764.8 1981L757.9 1977.4L751 1974L744 1970.9L736.9 1967.9L729.8 1965L722.7 1962.3L715.5 1959.7L708.2 1957.2L700.9 1954.8L693.5 1952.6L686.1 1950.4L678.6 1948.3L671 1946.4L663.4 1944.6L655.6 1942.9L647.8 1941.5L640 1940.2L632.1 1939.2L624.1 1938.5L616.2 1938.2Z" stroke-width="2.9" fill="white" stroke-linejoin="round"/>
<path d="M504.7 1895.4L507.9 1887.5L511.5 1879.7L515.5 1872.1L519.8 1864.7L524.4 1857.5L529.2 1850.4L534.1 1843.6L539.3 1836.9L544.6 1830.5L549.9 1824.1L555.4 1817.9L561 1811.9L566.6 1806L572.3 1800.2L578.1 1794.5L583.9 1789L589.9 1783.6L595.9 1778.3L602.1 1773.1L608.4 1768L614.8 1763.1L621.5 1758.4L628.3 1753.8L635.4 1749.4L647.5 1755L659.2 1761.1L670.6 1767.8L681.6 1775.1L692.3 1783L702.5 1791.4L712.3 1800.3L721.6 1809.7L730.4 1819.5L738.7 1829.8L730.5 1830.3L722.5 1831.1L714.6 1832.3L706.9 1833.7L699.3 1835.4L691.8 1837.3L684.4 1839.3L677 1841.6L669.8 1844L662.6 1846.5L655.4 1849.1L648.2 1851.9L641.1 1854.7L634 1857.7L626.9 1860.8L619.8 1864.1L612.7 1867.5L605.7 1871L598.7 1874.7L591.8 1878.6L585 1882.7L578.3 1887L571.8 1891.6L565.4 1896.5Z" stroke-width="2.9" fill="white" stroke-linejoin="round"/>
<path d="M505 1884.9L507.4 1876.6L510.2 1868.5L513.2 1860.4L516.4 1852.5L519.8 1844.7L523.3 1836.9L527 1829.3L530.7 1821.8L534.6 1814.4L538.6 1807.1L542.7 1799.8L546.9 1792.7L551.3 1785.6L555.8 1778.6L560.5 1771.7L565.4 1764.9L570.6 1758.2L576.1 1751.6L581.9 1745.2L588.2 1739" stroke-width="1.2"/>
<path d="M446 1927.1L442.6 1919.2L439.4 1911.2L436.6 1903.1L433.9 1895L431.5 1886.8L429.2 1878.6L427.1 1870.4L425.2 1862.2L423.4 1854.1L421.8 1845.9L420.2 1837.7L418.9 1829.5L417.7 1821.3L416.6 1813L415.8 1804.7L415.2 1796.3L414.9 1787.9L414.8 1779.3L415.2 1770.6L416 1761.8" stroke-width="1.2"/>
<path d="M428 1997.4L420.3 1993.5L412.7 1989.4L405.3 1985.1L398.1 1980.5L390.9 1975.8L384 1971L377.1 1966.1L370.4 1961L363.7 1955.9L357.2 1950.7L350.8 1945.4L344.4 1940L338.2 1934.5L332.1 1928.8L326.1 1923L320.3 1917L314.6 1910.7L309.1 1904.2L303.8 1897.3L298.7 1890.1" stroke-width="1.2"/>
<path d="M459.4 2062.8L451 2064.8L442.5 2066.5L434.1 2067.9L425.6 2069.1L417.1 2070.1L408.7 2070.9L400.2 2071.5L391.8 2072L383.5 2072.3L375.1 2072.5L366.8 2072.6L358.5 2072.5L350.2 2072.3L341.9 2071.9L333.5 2071.3L325.2 2070.4L316.8 2069.3L308.4 2067.8L299.9 2065.9L291.3 2063.7" stroke-width="1.2"/>
<path d="M525.4 2092.7L520.3 2099.6L514.9 2106.4L509.3 2112.9L503.6 2119.3L497.7 2125.5L491.8 2131.5L485.7 2137.4L479.6 2143.2L473.4 2148.8L467.2 2154.3L460.8 2159.7L454.4 2165L447.9 2170.2L441.3 2175.2L434.5 2180.1L427.5 2184.8L420.4 2189.3L413 2193.6L405.3 2197.6L397.3 2201.4" stroke-width="1.2"/>
<path d="M595.2 2073.2L595.8 2081.8L596 2090.4L595.9 2099L595.6 2107.5L595.1 2116.1L594.4 2124.5L593.6 2132.9L592.6 2141.3L591.5 2149.6L590.2 2157.8L588.9 2166L587.3 2174.2L585.7 2182.4L583.8 2190.5L581.8 2198.6L579.5 2206.6L576.9 2214.7L574 2222.8L570.7 2230.8L566.9 2238.8" stroke-width="1.2"/>
<path d="M636.2 2013.3L642.1 2019.6L647.8 2026L653.3 2032.7L658.6 2039.4L663.6 2046.3L668.6 2053.2L673.3 2060.2L677.9 2067.2L682.4 2074.3L686.8 2081.4L691 2088.6L695.1 2095.8L699 2103.1L702.8 2110.5L706.5 2118L709.9 2125.7L713.1 2133.5L716 2141.6L718.7 2149.8L721 2158.4" stroke-width="1.2"/>
<path d="M629.1 1941.2L637.7 1942.1L646.2 1943.4L654.6 1945L663 1946.8L671.3 1948.7L679.5 1950.9L687.6 1953.2L695.7 1955.6L703.7 1958.1L711.6 1960.8L719.4 1963.6L727.2 1966.5L734.9 1969.5L742.6 1972.8L750.2 1976.2L757.8 1979.9L765.3 1983.8L772.7 1988.1L780 1992.7L787.3 1997.8" stroke-width="1.2"/>
<path d="M577.3 1890.5L584.4 1885.7L591.8 1881.2L599.3 1877L606.8 1872.9L614.5 1869.1L622.1 1865.5L629.8 1862L637.6 1858.7L645.3 1855.5L653.1 1852.5L660.9 1849.5L668.7 1846.8L676.6 1844.1L684.5 1841.7L692.6 1839.4L700.7 1837.4L709 1835.6L717.4 1834.1L726 1832.9L734.8 1832.1" stroke-width="1.2"/>
<circle cx="533.5" cy="1987" r="262" stroke-width="2.6"/>
<circle cx="533.5" cy="1987" r="98.5" stroke-width="2.6" fill="white"/>
<circle cx="533.5" cy="1987" r="92.5" stroke-width="1.6"/>
<circle cx="533.5" cy="1987" r="73.5" stroke-width="2.6"/>
<path d="M310.7 1721.5L357 1721.5Q364 1721.5 367.3 1731A305 305 0 0 0 278 1819.7Q269 1823 266 1813L266 1769.8Q266 1764.3 272 1764.3L297 1764.3Q310.7 1764.3 310.7 1750.5Z" stroke-width="2.6" stroke-linejoin="round"/>
<path d="M310.7 2252.5L357 2252.5Q364 2252.5 367.3 2243A305 305 0 0 1 278 2154.3Q269 2151 266 2161L266 2204.2Q266 2209.7 272 2209.7L297 2209.7Q310.7 2209.7 310.7 2223.5Z" stroke-width="2.6" stroke-linejoin="round"/>
<path d="M756.3 1721.5L710 1721.5Q703 1721.5 699.7 1731A305 305 0 0 1 789 1819.7Q798 1823 801 1813L801 1769.8Q801 1764.3 795 1764.3L770 1764.3Q756.3 1764.3 756.3 1750.5Z" stroke-width="2.6" stroke-linejoin="round"/>
<path d="M756.3 2252.5L710 2252.5Q703 2252.5 699.7 2243A305 305 0 0 0 789 2154.3Q798 2151 801 2161L801 2204.2Q801 2209.7 795 2209.7L770 2209.7Q756.3 2209.7 756.3 2223.5Z" stroke-width="2.6" stroke-linejoin="round"/>
<circle cx="291.8" cy="1746" r="10" stroke-width="2.6" fill="white"/>
<circle cx="291.8" cy="2228" r="10" stroke-width="2.6" fill="white"/>
<circle cx="775.2" cy="1746" r="10" stroke-width="2.6" fill="white"/>
<circle cx="775.2" cy="2228" r="10" stroke-width="2.6" fill="white"/>
<path d="M289 1745L236 1744L215.5 1857.3L252 1857.3" stroke-width="5.2" stroke-linejoin="round" stroke-linecap="round"/>
<path d="M289 1745L236 1744L215.5 1857.3L252 1857.3" stroke="#fff" stroke-width="2.2" stroke-linejoin="round" stroke-linecap="round"/>
<path d="M771 1745L824 1744L844.5 1857.3L808 1857.3" stroke-width="5.2" stroke-linejoin="round" stroke-linecap="round"/>
<path d="M771 1745L824 1744L844.5 1857.3L808 1857.3" stroke="#fff" stroke-width="2.2" stroke-linejoin="round" stroke-linecap="round"/>
<path d="M252 1785L237 1785L215.5 1899L252 1899" stroke-width="5.2" stroke-linejoin="round" stroke-linecap="round"/>
<path d="M252 1785L237 1785L215.5 1899L252 1899" stroke="#fff" stroke-width="2.2" stroke-linejoin="round" stroke-linecap="round"/>
<path d="M808 1785L823 1785L844.5 1899L808 1899" stroke-width="5.2" stroke-linejoin="round" stroke-linecap="round"/>
<path d="M808 1785L823 1785L844.5 1899L808 1899" stroke="#fff" stroke-width="2.2" stroke-linejoin="round" stroke-linecap="round"/>
<path d="M252 2114.5L215.5 2114.5L238.2 2228.5L289 2229" stroke-width="5.2" stroke-linejoin="round" stroke-linecap="round"/>
<path d="M252 2114.5L215.5 2114.5L238.2 2228.5L289 2229" stroke="#fff" stroke-width="2.2" stroke-linejoin="round" stroke-linecap="round"/>
<path d="M808 2114.5L844.5 2114.5L821.8 2228.5L771 2229" stroke-width="5.2" stroke-linejoin="round" stroke-linecap="round"/>
<path d="M808 2114.5L844.5 2114.5L821.8 2228.5L771 2229" stroke="#fff" stroke-width="2.2" stroke-linejoin="round" stroke-linecap="round"/>
<path d="M252 2157.3L215.5 2157.3L238 2271L289 2272.5" stroke-width="5.2" stroke-linejoin="round" stroke-linecap="round"/>
<path d="M252 2157.3L215.5 2157.3L238 2271L289 2272.5" stroke="#fff" stroke-width="2.2" stroke-linejoin="round" stroke-linecap="round"/>
<path d="M808 2157.3L844.5 2157.3L822 2271L771 2272.5" stroke-width="5.2" stroke-linejoin="round" stroke-linecap="round"/>
<path d="M808 2157.3L844.5 2157.3L822 2271L771 2272.5" stroke="#fff" stroke-width="2.2" stroke-linejoin="round" stroke-linecap="round"/>
<path d="M252 1910H225Q219 1910 219 1916V2097Q219 2103.6 225 2103.6H252" stroke-width="5.2" stroke-linejoin="round"/>
<path d="M252 1910H225Q219 1910 219 1916V2097Q219 2103.6 225 2103.6H252" stroke-width="2.2" stroke="#fff"/>
<path d="M220.5 1954.5L252 1954.5" stroke-width="4.8" stroke-linejoin="round" stroke-linecap="round"/>
<path d="M220.5 1954.5L252 1954.5" stroke="#fff" stroke-width="1.8" stroke-linejoin="round" stroke-linecap="round"/>
<path d="M220.5 2058L252 2058" stroke-width="4.8" stroke-linejoin="round" stroke-linecap="round"/>
<path d="M220.5 2058L252 2058" stroke="#fff" stroke-width="1.8" stroke-linejoin="round" stroke-linecap="round"/>
<path d="M808 1910H835Q841 1910 841 1916V2097Q841 2103.6 835 2103.6H808" stroke-width="5.2" stroke-linejoin="round"/>
<path d="M808 1910H835Q841 1910 841 1916V2097Q841 2103.6 835 2103.6H808" stroke-width="2.2" stroke="#fff"/>
<path d="M839.5 1954.5L808 1954.5" stroke-width="4.8" stroke-linejoin="round" stroke-linecap="round"/>
<path d="M839.5 1954.5L808 1954.5" stroke="#fff" stroke-width="1.8" stroke-linejoin="round" stroke-linecap="round"/>
<path d="M839.5 2058L808 2058" stroke-width="4.8" stroke-linejoin="round" stroke-linecap="round"/>
<path d="M839.5 2058L808 2058" stroke="#fff" stroke-width="1.8" stroke-linejoin="round" stroke-linecap="round"/>
<path d="M256.6 2262V2286Q257 2307 278 2307H790Q810 2307 810 2286V2262" stroke-width="2.6"/>
<path d="M305 2297.5L755 2297.5" stroke-width="2.6"/>
<path d="M754.6 2264L754.6 2297.5" stroke-width="2"/>
<path d="M312.4 2264L312.4 2297.5" stroke-width="2"/>
<g clip-path="url(#crear)"><circle cx="533.5" cy="2031" r="262" stroke-width="2.6"/><circle cx="533.5" cy="2031" r="259" stroke-width="1"/></g>
<circle cx="291" cy="2273.3" r="9" stroke-width="2.6" fill="white"/>
<circle cx="775.4" cy="2273.3" r="9" stroke-width="2.6" fill="white"/>
<path d="M333 2266L364 2288Q367 2293 362 2297.5" stroke-width="2.1"/>
<path d="M727 2266L696 2288Q693 2293 698 2297.5" stroke-width="2.1"/>
<circle cx="291.8" cy="1746" r="10" stroke-width="2.6"/>
<circle cx="290.3" cy="1745.5" r="2.3" stroke-width="1.4"/>
<circle cx="291.8" cy="2229" r="10" stroke-width="2.6"/>
<circle cx="290.3" cy="2228.5" r="2.3" stroke-width="1.4"/>
<circle cx="775.2" cy="1746" r="10" stroke-width="2.6"/>
<circle cx="776.7" cy="1745.5" r="2.3" stroke-width="1.4"/>
<circle cx="775.2" cy="2229" r="10" stroke-width="2.6"/>
<circle cx="776.7" cy="2228.5" r="2.3" stroke-width="1.4"/>
<rect x="455.2" y="2341" width="73" height="21.3" stroke-width="0.5" fill="#000"/>
<path d="M400 2364.5L600 2364.5" stroke-width="1.6"/>
<path d="M330 2309.5L740 2309.5" stroke-width="1.6"/>
<path d="M719.3 2264L716.8 2285.6L710.5 2303.2L697.9 2318.3L680.3 2333.4L655.2 2348.5L630 2361L590 2390L561 2413.9A10.2 10.2 0 0 0 578 2424L600 2410L630 2391.2L675.3 2366.1L703 2348.5L723.1 2330.9L738.2 2308.2L744.5 2288L747 2264" stroke-width="2.6" fill="white" stroke-linejoin="round"/>
<path d="M681.6 2333.4L695.4 2354.8" stroke-width="2"/>
<path d="M637.5 2264L636.3 2285.6L630 2305.7L621 2321L596 2346L561 2381L531 2406L525.7 2416A11.5 11.5 0 0 0 547 2423L561 2409L596 2376L629 2351L642 2338.4L655.2 2318.3L662.7 2295.6L665.2 2264" stroke-width="2.6" fill="white" stroke-linejoin="round"/>
<path d="M607.5 2334.6L623.8 2351" stroke-width="2"/>
<path d="M582.3 2357.3L598.7 2376.1" stroke-width="2"/>
<path d="M389.9 2264L392.4 2300.7L398.7 2340.9L411.3 2381.2L426.4 2413.9L433 2421A13.7 13.7 0 0 0 459 2415L452 2400L440 2371.1L431.4 2348.5L421.4 2313.2L416.3 2283L415.1 2264" stroke-width="2.6" fill="white" stroke-linejoin="round"/>
<path d="M400 2348.5L423.9 2339.7" stroke-width="2"/>
<path d="M408.8 2371.1L432.7 2361" stroke-width="2"/>
<path d="M306.9 2264L306.9 2299.4L310.7 2325.8L323.2 2351L345.9 2376.1L386.1 2408.9L408.8 2424A11.6 11.6 0 0 0 426.4 2410L401.2 2386.2L371 2361L350.9 2340.9L337.1 2318.3L333.3 2299.4L333.3 2264" stroke-width="2.6" fill="white" stroke-linejoin="round"/>
<path d="M322 2348.5L343.4 2337.1" stroke-width="2"/>
<path d="M347.1 2373.6L361 2356" stroke-width="2"/>
<path d="M554.6 2264L550.9 2300.7L538.3 2330.9L520.7 2363.6L503 2393.8L495.5 2413.9A14.3 14.3 0 0 0 523.2 2413.9L535.8 2391.2L553.4 2361L571 2325.8L581 2295.6L582.3 2264" stroke-width="2.6" fill="white" stroke-linejoin="round"/>
<path d="M545.8 2310.7L568.5 2320.8" stroke-width="2"/>
<path d="M530.7 2338.4L553.4 2348.5" stroke-width="2"/>
<path d="M518.1 2361L543.3 2371.1" stroke-width="2"/>
<path d="M471.6 2264L470 2340L466 2390L464 2414A14.3 14.3 0 0 0 491.7 2414L493.5 2390L497 2340L498 2264" stroke-width="2.6" fill="white" stroke-linejoin="round"/>
<path d="M470 2343.5L497 2343.5" stroke-width="2"/>
<path d="M468 2367.3L495 2367.3" stroke-width="2"/>
<path d="M258 2263L809 2263" stroke-width="3"/>
<path d="M392 2434.5L589 2434.5" stroke-width="2.6"/>
<path d="M588.6 2418L588.6 2434.5" stroke-width="2.6"/>
<path d="M591 2431.5L607.5 2431.5L607.5 2409" stroke-width="2"/>
<path d="M376.1 2401.3L376.1 2415L388.8 2431L396.2 2433L396.2 2416" stroke-width="2.6"/>
<rect x="284.2" y="2317.8" width="25.2" height="16.8" stroke-width="2.6" fill="white"/>
<path d="M290 2340L322 2336M290.8 2346.6L322.4 2342.6M291.6 2353.2L322.8 2349.2M292.4 2359.8L323.2 2355.8M293.2 2366.4L323.6 2362.4" stroke-width="4.6" stroke-linecap="round"/>
<path d="M290 2340L322 2336M290.8 2346.6L322.4 2342.6M291.6 2353.2L322.8 2349.2M292.4 2359.8L323.2 2355.8M293.2 2366.4L323.6 2362.4" stroke-width="1.6" stroke-linecap="round" stroke="#fff"/>
<rect x="280" y="2371.1" width="63.4" height="8.1" stroke-width="2.6" fill="white"/>
<path d="M303 2371L303 2379" stroke-width="1.6"/>
<rect x="296.3" y="2383.2" width="23.2" height="8.5" stroke-width="2.6" fill="white" rx="2"/>
<path d="M300 2379.2L300 2383" stroke-width="1.6"/>
<path d="M316 2379.2L316 2383" stroke-width="1.6"/>
<rect x="654" y="2318.3" width="26" height="15.1" stroke-width="2.6" fill="white"/>
<path d="M674 2314.5L674 2328L678.5 2328L678.5 2314.5" stroke-width="1.9"/>
<rect x="657.7" y="2371.1" width="46.5" height="8.1" stroke-width="2.6" fill="white"/>
<rect x="665.2" y="2383.2" width="22.7" height="8" stroke-width="2.6" fill="white" rx="2"/>
<path d="M669 2379.2L669 2383" stroke-width="1.6"/>
<path d="M684 2379.2L684 2383" stroke-width="1.6"/>
</g></svg></body></html>
